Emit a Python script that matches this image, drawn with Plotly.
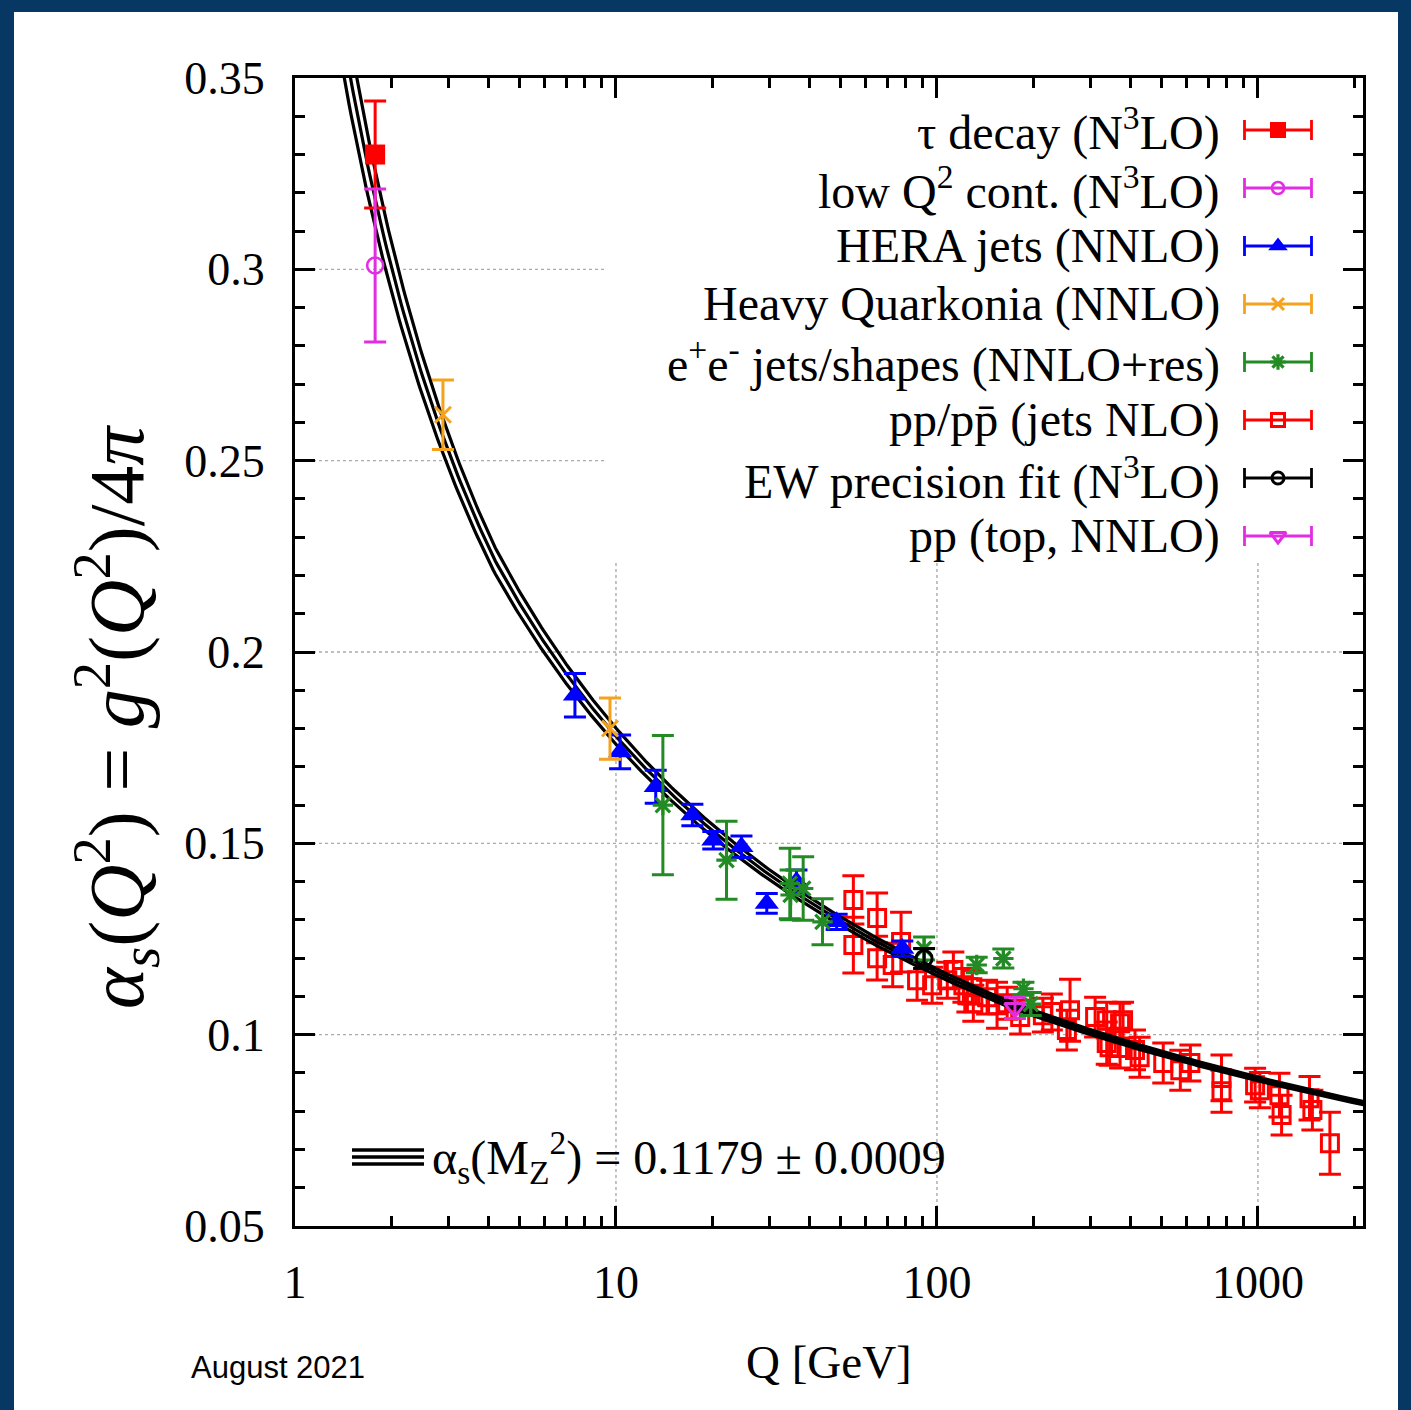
import numpy as np
import plotly.graph_objects as go

# ---------------------------------------------------------------------------
# Measurements of the strong coupling: scale Q [GeV], alpha_s, uncertainty
# ---------------------------------------------------------------------------
tau_q = [1.777]
tau_a = [0.330]
tau_e = [0.014]

lowq_q = [1.777]
lowq_a = [0.301]
lowq_e = [0.020]

hera_q = [7.45, 10.3, 13.3, 17.3, 20.1, 24.6, 29.5, 36.5, 48.7, 78.0]
hera_a = [0.1887, 0.1739, 0.1648, 0.1574, 0.1508, 0.1491, 0.1343, 0.1400, 0.1295, 0.1225]
hera_e = [0.0057, 0.0044, 0.0043, 0.0028, 0.0023, 0.0028, 0.0026, 0.0030, 0.0020, 0.0020]

quarkonia_q = [2.89, 9.58]
quarkonia_a = [0.262, 0.180]
quarkonia_e = [0.0091, 0.0080]

ee_q = [14.0, 22.1, 34.8, 35.0, 38.3, 44.0, 91.2, 133.0, 161.0, 186.0, 196.0]
ee_a = [0.1600, 0.1456, 0.1395, 0.1365, 0.1382, 0.1295, 0.1225, 0.1182, 0.1199, 0.1120, 0.1080]
ee_e = [0.0182, 0.0102, 0.0092, 0.0065, 0.0083, 0.0060, 0.0030, 0.0020, 0.0025, 0.0017, 0.0030]

ppjet_q = [54.9, 54.9, 65.1, 65.1, 72.8, 77.3, 86.7, 96.6, 107.7, 112.5,
           120.9, 124.4, 128.9, 129.8, 143.3, 153.9, 165.5, 181.7, 213.8, 228.0,
           254.0, 259.8, 311.0, 338.0, 338.0, 345.0, 372.0, 372.0, 380.0, 414.0,
           428.0, 507.0, 573.0, 616.0, 770.0, 770.0, 980.0, 1014.0, 1167.0, 1185.0,
           1448.0, 1478.0, 1676.0]
ppjet_a = [0.1352, 0.1234, 0.1305, 0.1200, 0.1182, 0.1242, 0.1142, 0.1129, 0.1142, 0.1169,
           0.1129, 0.1103, 0.1124, 0.1082, 0.1098, 0.1077, 0.1082, 0.1046, 0.1051, 0.1059,
           0.1012, 0.1064, 0.1046, 0.1038, 0.0978, 0.0967, 0.1030, 0.0965, 0.1038, 0.0960,
           0.0941, 0.0926, 0.0907, 0.0926, 0.0887, 0.0852, 0.0868, 0.0855, 0.0842, 0.0790,
           0.0834, 0.0803, 0.0716]
ppjet_e = [0.0063, 0.0073, 0.0065, 0.0057, 0.0057, 0.0078, 0.0052, 0.0047, 0.0047, 0.0047,
           0.0044, 0.0044, 0.0044, 0.0047, 0.0044, 0.0060, 0.0042, 0.0044, 0.0044, 0.0047,
           0.0052, 0.0081, 0.0052, 0.0047, 0.0055, 0.0047, 0.0052, 0.0052, 0.0047, 0.0052,
           0.0052, 0.0052, 0.0052, 0.0047, 0.0060, 0.0055, 0.0044, 0.0046, 0.0057, 0.0052,
           0.0057, 0.0052, 0.0081]

ew_q = [91.19]
ew_a = [0.1199]
ew_e = [0.0026]

top_q = [175.0]
top_a = [0.1070]
top_e = [0.0028]

# World average used for the running-coupling band
ALPHA_MZ = 0.1179
ALPHA_MZ_ERR = 0.0009
MZ = 91.1876
QUARK_MASSES = [1.27, 4.18, 172.76]   # c, b, t thresholds [GeV]

legend_labels = [
    "τ decay (N<sup>3</sup>LO)",
    "low Q<sup>2</sup> cont. (N<sup>3</sup>LO)",
    "HERA jets (NNLO)",
    "Heavy Quarkonia (NNLO)",
    "e<sup>+</sup>e<sup>-</sup> jets/shapes (NNLO+res)",
    "pp/pp\u0304 (jets NLO)",
    "EW precision fit (N<sup>3</sup>LO)",
    "pp (top, NNLO)",
]

X_MAX = 2125.0
Y_MIN, Y_MAX = 0.05, 0.35
x_tick_vals = [1, 10, 100, 1000]
x_tick_text = ["1", "10", "100", "1000"]
y_tick_vals = [0.05, 0.10, 0.15, 0.20, 0.25, 0.30, 0.35]
y_tick_text = ["0.05", "0.1", "0.15", "0.2", "0.25", "0.3", "0.35"]

# ---------------------------------------------------------------------------
# Four-loop QCD running of alpha_s from the Z pole
# ---------------------------------------------------------------------------
ZETA3 = 1.2020569031595942


def beta_coeffs(nf):
    b0 = 11.0 - 2.0 / 3.0 * nf
    b1 = 102.0 - 38.0 / 3.0 * nf
    b2 = 2857.0 / 2.0 - 5033.0 / 18.0 * nf + 325.0 / 54.0 * nf ** 2
    b3 = ((149753.0 / 6.0 + 3564.0 * ZETA3)
          - (1078361.0 / 162.0 + 6508.0 / 27.0 * ZETA3) * nf
          + (50065.0 / 162.0 + 6472.0 / 81.0 * ZETA3) * nf ** 2
          + 1093.0 / 729.0 * nf ** 3)
    return b0, b1, b2, b3


def n_flavours(q):
    return 3 + sum(1 for m in QUARK_MASSES if q > m)


def da_dt(a, nf):
    b0, b1, b2, b3 = beta_coeffs(nf)
    return -(b0 * a ** 2 + b1 * a ** 3 + b2 * a ** 4 + b3 * a ** 5)


def rk4_step(a, t0, t1):
    nf = n_flavours(np.exp(0.25 * (t0 + t1)))
    h = t1 - t0
    k1 = da_dt(a, nf)
    k2 = da_dt(a + 0.5 * h * k1, nf)
    k3 = da_dt(a + 0.5 * h * k2, nf)
    k4 = da_dt(a + h * k3, nf)
    return a + h * (k1 + 2 * k2 + 2 * k3 + k4) / 6.0


def running_alpha(alpha_ref, q_values, substeps=10):
    q_values = np.asarray(q_values)
    out = np.empty(len(q_values))
    a_ref = alpha_ref / (4 * np.pi)
    t_ref = np.log(MZ ** 2)
    ts = np.log(q_values ** 2)
    above = np.where(ts >= t_ref)[0]
    below = np.where(ts < t_ref)[0][::-1]
    for idx_list in (above, below):
        a, t = a_ref, t_ref
        for i in idx_list:
            edges = np.linspace(t, ts[i], substeps + 1)
            for t0, t1 in zip(edges[:-1], edges[1:]):
                a = rk4_step(a, t0, t1)
            t = ts[i]
            out[i] = 4 * np.pi * a
    return out


q_curve = np.geomspace(1.25, 2200, 500)
band = [running_alpha(ALPHA_MZ + s * ALPHA_MZ_ERR, q_curve) for s in (-1, 0, 1)]

# ---------------------------------------------------------------------------
# Styling
# ---------------------------------------------------------------------------
NAVY = "#073763"
SERIF = "Liberation Serif"
RED = "#ff0000"
MAGENTA = "#e22ee2"
BLUE = "#0000ff"
ORANGE = "#f5a31f"
GREEN = "#238b23"
GRID = "#ababab"

series = [
    (tau_q, tau_a, tau_e, RED, "square", 20, 0),
    (lowq_q, lowq_a, lowq_e, MAGENTA, "circle-open", 16, 2.6),
    (hera_q, hera_a, hera_e, BLUE, "triangle-up", 21, 0),
    (quarkonia_q, quarkonia_a, quarkonia_e, ORANGE, "x-thin-open", 16, 3),
    (ee_q, ee_a, ee_e, GREEN, "asterisk-open", 17, 3.2),
    (ppjet_q, ppjet_a, ppjet_e, RED, "square-open", 17, 3),
    (ew_q, ew_a, ew_e, "black", "circle-open", 16, 3),
    (top_q, top_a, top_e, MAGENTA, "triangle-down-open", 18, 3),
]

fig = go.Figure()


def add_series(q, a, e, color, symbol, size, lw):
    fig.add_trace(go.Scatter(
        x=q, y=a, mode="markers",
        marker=dict(symbol=symbol, size=size, color=color,
                    line=dict(color=color, width=lw)),
        error_y=dict(type="data", array=e, visible=True, color=color,
                     thickness=3, width=11),
        cliponaxis=True, hoverinfo="skip",
    ))


# jet data sits beneath the band, everything else above it
add_series(*series[5])
for curve in band:
    fig.add_trace(go.Scatter(
        x=q_curve, y=curve, mode="lines",
        line=dict(color="black", width=3.2), hoverinfo="skip",
    ))
for i, s in enumerate(series):
    if i != 5:
        add_series(*s)

# key samples drawn on an overlay axis spanning the plot area as [0, 1]
row_px = [130, 188, 246, 304, 362, 420, 478, 536]
plot_left, plot_right, plot_top, plot_bottom = 295, 1363, 78, 1226
pw, ph = plot_right - plot_left, plot_bottom - plot_top
row_y = [(plot_bottom - r) / ph for r in row_px]
sample_x = (1278 - plot_left) / pw
sample_half = 33.5 / pw
for (q, a, e, color, symbol, size, lw), y in zip(series, row_y):
    fig.add_trace(go.Scatter(
        x=[sample_x], y=[y], xaxis="x2", yaxis="y2", mode="markers",
        marker=dict(symbol=symbol, size=size - 4, color=color,
                    line=dict(color=color, width=lw)),
        error_x=dict(type="constant", value=sample_half, visible=True,
                     color=color, thickness=2.8, width=10),
        hoverinfo="skip", cliponaxis=False,
    ))

text_x = (1222 - plot_left) / pw
for label, y in zip(legend_labels, row_y):
    fig.add_annotation(
        x=text_x, y=y, xref="paper", yref="paper", text=label,
        showarrow=False, xanchor="right", yanchor="middle",
        font=dict(family=SERIF, size=48, color="black"),
    )

# band key: three strokes followed by the world-average value
for dy in (-7, 0, 7):
    yk = (plot_bottom - (1157 + dy)) / ph
    fig.add_shape(type="line", xref="paper", yref="paper",
                  x0=(352 - plot_left) / pw, x1=(424 - plot_left) / pw,
                  y0=yk, y1=yk, line=dict(color="black", width=3.6))
fig.add_annotation(
    x=(430 - plot_left) / pw, y=(plot_bottom - 1157) / ph,
    xref="paper", yref="paper", showarrow=False,
    xanchor="left", yanchor="middle",
    text="α<sub>s</sub>(M<sub>Z</sub><sup>2</sup>) = %.4f ± %.4f" % (ALPHA_MZ, ALPHA_MZ_ERR),
    font=dict(family=SERIF, size=48, color="black"),
)

# dotted grid; the part under the key is left blank
key_left_frac = (607 - plot_left) / pw
key_bottom_frac = (plot_bottom - 560) / ph


def x_frac(q):
    return np.log10(q) / np.log10(X_MAX)


def y_frac(v):
    return (v - Y_MIN) / (Y_MAX - Y_MIN)


for v in y_tick_vals[1:-1]:
    yf = y_frac(v)
    x_end = 1.0 if yf < key_bottom_frac else key_left_frac
    fig.add_shape(type="line", xref="paper", yref="paper",
                  x0=0, x1=x_end, y0=yf, y1=yf, layer="below",
                  line=dict(color=GRID, width=1.4, dash="dot"))
for q in x_tick_vals[1:]:
    xf = x_frac(q)
    y_end = 1.0 if xf < key_left_frac else key_bottom_frac
    fig.add_shape(type="line", xref="paper", yref="paper",
                  x0=xf, x1=xf, y0=0, y1=y_end, layer="below",
                  line=dict(color=GRID, width=1.4, dash="dot"))

# navy frame around the white page
frame = [
    (-20, 14, -20, 1430),        # left
    (1398, 1431, -20, 1430),     # right
    (-20, 1431, -20, 12),        # top
]
for fx0, fx1, fy0, fy1 in frame:
    fig.add_shape(type="rect", xref="paper", yref="paper",
                  x0=(fx0 - plot_left) / pw, x1=(fx1 - plot_left) / pw,
                  y0=(plot_bottom - fy1) / ph, y1=(plot_bottom - fy0) / ph,
                  fillcolor=NAVY, line=dict(width=0), layer="above")

# axis titles and date stamp
fig.add_annotation(
    x=(116 - plot_left) / pw, y=(plot_bottom - 717) / ph,
    xref="paper", yref="paper", showarrow=False, textangle=-90,
    xanchor="center", yanchor="middle",
    text="<i>α<sub>s</sub></i>(<i>Q</i><sup>2</sup>) = <i>g</i><sup>2</sup>(<i>Q</i><sup>2</sup>)/4<i>π</i>",
    font=dict(family=SERIF, size=78, color="black"),
)
fig.add_annotation(
    x=0.5, y=(plot_bottom - 1362) / ph, xref="paper", yref="paper",
    showarrow=False, xanchor="center", yanchor="middle",
    text="Q [GeV]", font=dict(family=SERIF, size=47, color="black"),
)
fig.add_annotation(
    x=(189 - plot_left) / pw, y=(plot_bottom - 1367) / ph,
    xref="paper", yref="paper", showarrow=False,
    xanchor="left", yanchor="middle",
    text="August 2021", font=dict(family="Liberation Sans", size=31, color="black"),
)

axis_common = dict(
    showline=True, linewidth=3, linecolor="black", mirror="ticks",
    ticks="inside", ticklen=20, tickwidth=2.8, tickcolor="black",
    showgrid=False, zeroline=False,
    tickfont=dict(family=SERIF, size=46, color="black"),
)

fig.update_layout(
    width=1411, height=1410,
    margin=dict(l=plot_left, r=1411 - plot_right, t=plot_top, b=1410 - plot_bottom, pad=0),
    paper_bgcolor="white", plot_bgcolor="white",
    showlegend=False,
    font=dict(family=SERIF, size=46, color="black"),
    xaxis=dict(
        type="log", range=[0, np.log10(X_MAX)],
        tickmode="array", tickvals=x_tick_vals, ticktext=x_tick_text,
        minor=dict(tickmode="linear", dtick="D1", ticks="inside", ticklen=10,
                   tickwidth=2.5, tickcolor="black", showgrid=False),
        ticklabelstandoff=14,
        **axis_common,
    ),
    yaxis=dict(
        range=[Y_MIN, Y_MAX],
        tickmode="array", tickvals=y_tick_vals, ticktext=y_tick_text,
        minor=dict(tickmode="linear", tick0=0.05, dtick=0.01, ticks="inside",
                   ticklen=10, tickwidth=2.5, tickcolor="black", showgrid=False),
        ticklabelstandoff=18,
        **axis_common,
    ),
    xaxis2=dict(overlaying="x", range=[0, 1], visible=False, showticklabels=False,
                showgrid=False, fixedrange=True),
    yaxis2=dict(overlaying="y", range=[0, 1], visible=False, showticklabels=False,
                showgrid=False, fixedrange=True),
)

fig.write_html("out.html")
